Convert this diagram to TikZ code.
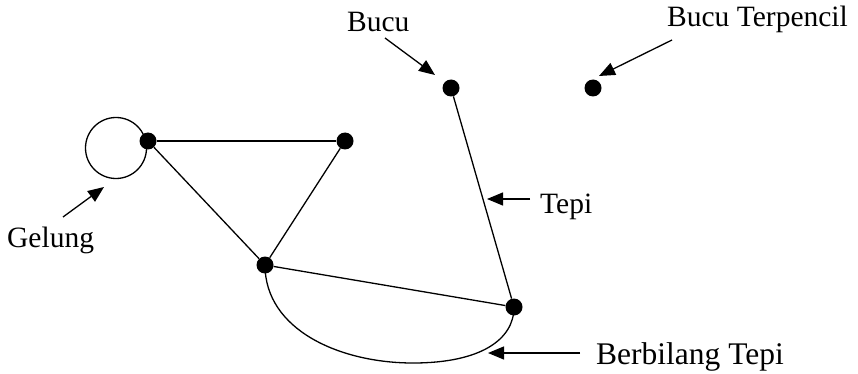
\documentclass[tikz,border=0pt]{standalone}
\usepackage{fontspec}
\setmainfont{Liberation Serif}
\usetikzlibrary{arrows.meta}
\begin{document}
\begin{tikzpicture}[x=1pt,y=-1pt,
  vdot/.style={circle,fill=black,inner sep=0pt,minimum size=17pt},
  edgeline/.style={line width=1.3pt},
  pointer/.style={line width=1.3pt,-{Triangle[length=16pt,width=13pt]}},
  lbl/.style={font=\fontsize{29.5}{34}\selectfont,inner sep=0pt,anchor=base west}]
\useasboundingbox (0,0) rectangle (858,374);
% vertices
\node[vdot] (A) at (148,141) {};
\node[vdot] (B) at (345,141) {};
\node[vdot] (C) at (265,265) {};
\node[vdot] (D) at (514,307) {};
\node[vdot] (E) at (451,88) {};
\node[vdot] (F) at (593,88) {};
\coordinate (loopc) at (116,148);
% edges
\draw[edgeline] (loopc) circle[radius=30.5];
\draw[edgeline] (A) -- (B);
\draw[edgeline] (A) -- (C);
\draw[edgeline] (B) -- (C);
\draw[edgeline] (C) -- (D);
\draw[edgeline] (E) -- (D);
\draw[edgeline] (C.center) .. controls (265,330) and (340,363) .. (413,363)
                 .. controls (480,363) and (514,340) .. (D.center);
% labels
\node[lbl] (lbucu) at (347,32) {Bucu};
\node[lbl] (lterp) at (667,27) {Bucu Terpencil};
\node[lbl] (ltepi) at (540,213) {Tepi};
\node[lbl] (lgel) at (7,247) {Gelung};
\node[lbl,font=\fontsize{31.5}{36}\selectfont] (lberb) at (596,364) {Berbilang Tepi};
% arrow ends
\coordinate (t1) at (385,38);  \coordinate (h1) at (435,75);
\coordinate (t2) at (672,40);  \coordinate (h2) at (599,76);
\coordinate (t3) at (530,199); \coordinate (h3) at (487,199);
\coordinate (t4) at (63,217);  \coordinate (h4) at (104,187);
\coordinate (t5) at (580,353); \coordinate (h5) at (488,353);
\draw[pointer] (t1) -- (h1);
\draw[pointer] (t2) -- (h2);
\draw[pointer] (t3) -- (h3);
\draw[pointer] (t4) -- (h4);
\draw[pointer] (t5) -- (h5);
\end{tikzpicture}
\end{document}
